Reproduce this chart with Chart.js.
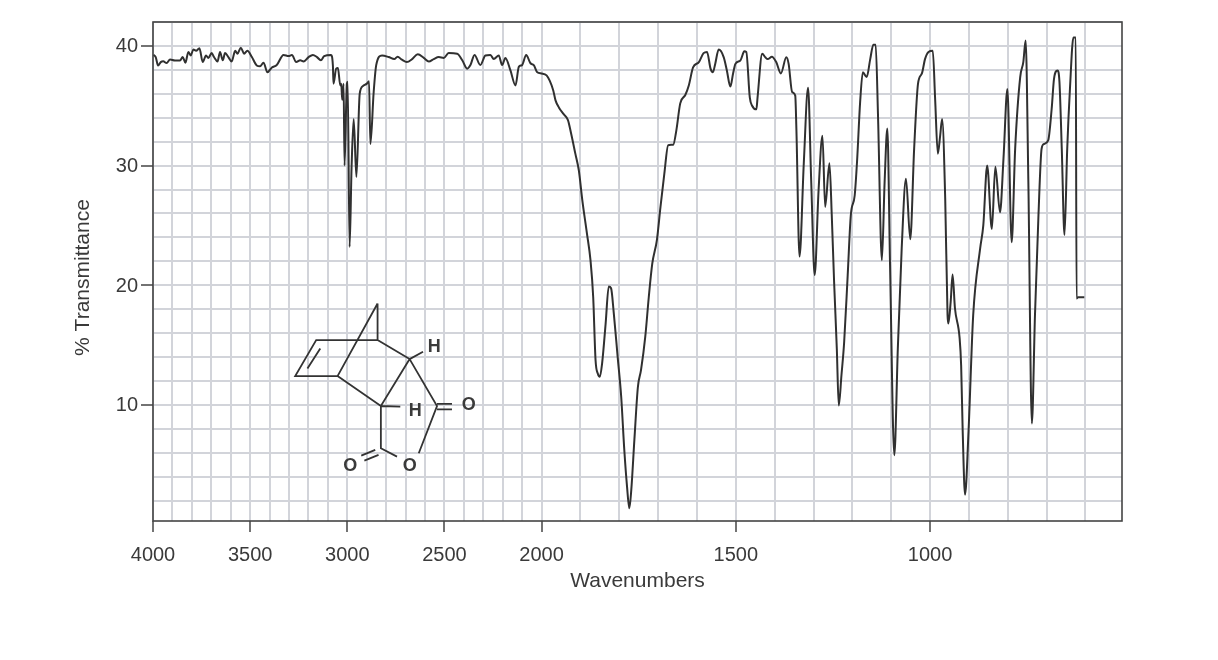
<!DOCTYPE html>
<html><head><meta charset="utf-8">
<script src="https://cdn.jsdelivr.net/npm/chart.js@4"></script>
<style>html,body{margin:0;padding:0;background:#fff}canvas{display:block}</style>
</head><body><canvas id="c" width="1218" height="660"></canvas>
<script>
const wavenumbers=[3998,3986,3974,3960,3947,3930,3912,3887,3861,3847,3833,3818,3806,3792,3778,3761,3744,3727,3715,3698,3686,3668,3655,3641,3629,3612,3595,3577,3565,3548,3531,3514,3491,3466,3449,3431,3411,3388,3363,3328,3302,3285,3263,3242,3225,3199,3177,3156,3136,3119,3084,3074,3071,3057,3048,3036,3031,3026,3019,3014,3002,2998,2988,2978,2967,2953,2936,2919,2899,2888,2881,2864,2851,2821,2787,2758,2741,2719,2693,2666,2637,2606,2580,2555,2529,2503,2478,2434,2408,2383,2366,2345,2315,2289,2263,2246,2220,2203,2186,2160,2134,2117,2100,2079,2057,2040,2022,2000,1987,1979,1970,1964,1955,1943,1932,1924,1913,1904,1895,1883,1874,1867,1861,1855,1850,1844,1835,1827,1821,1814,1804,1795,1787,1780,1774,1769,1761,1752,1744,1733,1724,1715,1703,1694,1684,1674,1661,1653,1643,1630,1621,1610,1595,1583,1574,1565,1559,1553,1544,1531,1523,1514,1507,1501,1488,1478,1473,1464,1458,1447,1444,1432,1424,1418,1407,1396,1384,1370,1364,1355,1347,1344,1336,1325,1314,1306,1297,1287,1277,1270,1259,1253,1247,1240,1235,1228,1221,1212,1204,1194,1188,1180,1173,1163,1154,1146,1140,1134,1124,1117,1110,1103,1092,1083,1073,1062,1051,1041,1031,1021,1013,1004,993,987,980,974,969,961,955,953,947,942,936,924,920,916,910,901,889,871,863,853,841,832,820,811,801,790,781,768,760,754,747,738,730,721,713,707,696,687,681,672,667,661,654,647,640,631,625,623,619,603];
const transmittance=[39.26,39.07,38.37,38.65,38.71,38.57,38.87,38.79,38.79,39.07,38.6,39.5,39.2,39.7,39.6,39.8,38.65,39.2,39.0,39.4,39.07,38.7,39.5,38.8,39.4,39.07,38.7,39.6,39.35,39.85,39.35,39.6,39.07,38.37,38.3,38.6,37.8,38.2,38.4,39.25,39.15,39.25,38.65,38.8,38.7,39.07,39.25,39.07,38.8,39.15,39.25,38.37,36.85,38.1,38.15,36.7,36.85,35.5,36.85,30.0,36.85,37.0,23.2,29.75,33.9,29.05,36.0,36.65,36.85,37.05,31.8,36.15,38.4,39.2,39.07,38.9,39.1,38.85,38.65,38.9,39.3,39.0,38.7,38.9,39.07,39.0,39.4,39.35,38.8,38.1,38.4,39.25,38.4,39.2,39.25,38.9,39.2,38.4,39.0,37.95,36.7,38.25,38.4,39.25,38.55,38.4,37.8,37.7,37.54,37.1,36.3,35.45,34.84,34.3,33.8,32.7,31.0,29.6,27.1,24.3,22.1,19.0,13.75,12.6,12.35,13.5,16.8,19.9,19.75,17.65,14.0,10.7,6.25,3.2,1.36,2.9,7.1,11.5,12.9,15.7,19.0,21.8,23.8,26.5,29.3,31.7,31.75,32.95,35.2,35.9,36.7,38.2,38.65,39.4,39.5,38.1,37.8,38.5,39.7,39.05,37.95,36.6,37.7,38.5,38.8,39.55,39.5,35.7,35.0,34.7,35.7,39.35,39.05,38.9,39.1,38.65,37.7,39.05,38.5,36.15,35.85,33.0,22.4,30.2,36.5,28.8,20.85,27.9,32.5,26.55,30.2,25.85,20.3,14.7,9.95,12.5,15.3,20.85,25.85,27.5,30.3,35.3,37.8,37.4,38.9,40.1,40.1,34.2,22.1,28.6,33.1,21.7,5.8,14.7,23.1,28.9,23.85,31.4,36.85,37.7,38.9,39.5,39.6,35.6,31.0,32.5,33.9,27.2,17.5,16.8,18.6,20.9,18.1,15.6,13.3,7.8,2.5,7.8,17.5,23.1,25.0,30.0,24.7,29.9,26.1,30.6,36.4,23.6,31.4,37.4,38.65,40.45,28.6,8.45,17.5,25.85,31.4,31.8,32.1,34.75,37.25,37.95,37,31.4,24.2,31.4,36.4,40.7,40.7,18.9,19,19];

const xGrid=[4000,3900,3800,3700,3600,3500,3400,3300,3200,3100,3000,2900,2800,2700,2600,2500,2400,2300,2200,2100,2000,1900,1800,1700,1600,1500,1400,1300,1200,1100,1000,900,800,700,600];
const xLabels=[4000,3500,3000,2500,2000,1500,1000];
const yGrid=[2,4,6,8,10,12,14,16,18,20,22,24,26,28,30,32,34,36,38,40,42];
const yLabels=[10,20,30,40];
const xTitle="Wavenumbers", yTitle="% Transmittance";

// inset structure, in the same axis units; null breaks the stroke
const moleculeX=[2844,2844,null,2844,3050,null,2844,3160,3268,3050,null,3139,3205,null,2844,2679,2827,3050,null,2679,2610,null,2827,2727,null,2679,2538,2632,null,2538,2461,null,2538,2461,null,2827,2827,2744,null,2856,2928,null,2839,2912];
const moleculeY=[18.48,15.42,null,18.48,12.41,null,15.42,15.42,12.41,12.41,null,14.72,13.05,null,15.42,13.83,9.91,12.41,null,13.83,14.44,null,9.91,9.85,null,13.83,9.91,5.96,null,10.08,10.08,null,9.63,9.63,null,9.91,6.38,5.68,null,6.24,5.76,null,5.82,5.35];
const atomText=["H","H","O","O","O"];
const atomX=[2552,2650,2375,2679,2985];
const atomY=[14.8,9.5,9.99,4.88,4.88];

// wavenumber axis: 2000–end is drawn at twice the scale of 4000–2000
class WavenumberScale extends Chart.LinearScale{
  _frac(v){
    const hi=this.max, lo=this.min, brk=2000;
    const a=(hi-brk)/2, b=brk-lo, t=a+b;
    return v>=brk ? ((hi-v)/2)/t : (a+(brk-v))/t;
  }
  getPixelForValue(v){ return this.left+this._frac(v)*this.width; }
  getValueForPixel(p){
    const hi=this.max, lo=this.min, brk=2000, a=(hi-brk)/2, t=a+(brk-lo);
    const d=(p-this.left)/this.width*t;
    return d<=a ? hi-2*d : brk-(d-a);
  }
}
WavenumberScale.id='wavenumber';
WavenumberScale.defaults=Chart.LinearScale.defaults;
Chart.register(WavenumberScale);

const INK='#3a3a3a', GRID='#d2d4da', FONT='"Liberation Sans",Arial,sans-serif';

const framePlugin={id:'frame',
  afterDatasetsDraw(ch){
    const {ctx,chartArea:a,scales:{x,y}}=ch;
    ctx.save();
    ctx.strokeStyle='#444';ctx.lineWidth=1.6;
    ctx.strokeRect(a.left,a.top,a.right-a.left,a.bottom-a.top);
    ctx.fillStyle=INK;ctx.font='bold 18px '+FONT;ctx.textAlign='center';ctx.textBaseline='middle';
    atomText.forEach((t,i)=>ctx.fillText(t,x.getPixelForValue(atomX[i]),y.getPixelForValue(atomY[i])));
    ctx.font='21px '+FONT;
    ctx.translate(83,(a.top+a.bottom)/2+6);ctx.rotate(-Math.PI/2);
    ctx.fillText(yTitle,0,0);
    ctx.restore();
  }};

new Chart(document.getElementById('c'),{
  type:'line',
  data:{datasets:[
    {data:wavenumbers.map((w,i)=>({x:w,y:transmittance[i]})),borderColor:'#303030',borderWidth:2,pointRadius:0,cubicInterpolationMode:'monotone',fill:false},
    {data:moleculeX.map((w,i)=>({x:w,y:moleculeY[i]})),borderColor:'#333',borderWidth:1.8,pointRadius:0,tension:0,fill:false,spanGaps:false}
  ]},
  plugins:[framePlugin],
  options:{
    responsive:false,animation:false,
    devicePixelRatio:1,
    layout:{padding:{left:72,top:22,right:96,bottom:66}},
    plugins:{legend:{display:false},tooltip:{enabled:false}},
    scales:{
      x:{type:'wavenumber',min:506,max:4000,
        afterBuildTicks(s){s.ticks=xGrid.map(v=>({value:v}));},
        afterFit(s){s.height=73;},
        grid:{color:GRID,lineWidth:2,tickLength:11,tickColor:c=>xLabels.includes(c.tick.value)?'#444':'rgba(0,0,0,0)',tickWidth:1.5},
        border:{display:false},
        ticks:{autoSkip:false,maxRotation:0,minRotation:0,padding:11,color:INK,font:{family:FONT,size:20},
          callback:v=>xLabels.includes(v)?String(v):''},
        title:{display:true,text:xTitle,color:INK,font:{family:FONT,size:21},padding:0}
      },
      y:{min:0.3,max:42,
        afterBuildTicks(s){s.ticks=yGrid.map(v=>({value:v}));},
        afterFit(s){s.width=81;},
        grid:{color:GRID,lineWidth:2,tickLength:12,tickColor:c=>yLabels.includes(c.tick.value)?'#444':'rgba(0,0,0,0)',tickWidth:1.5},
        border:{display:false},
        ticks:{autoSkip:false,padding:3,labelOffset:1,color:INK,font:{family:FONT,size:20},
          callback:v=>yLabels.includes(v)?String(v):''},
        title:{display:false}
      }
    }
  }
});
</script>
</body></html>
